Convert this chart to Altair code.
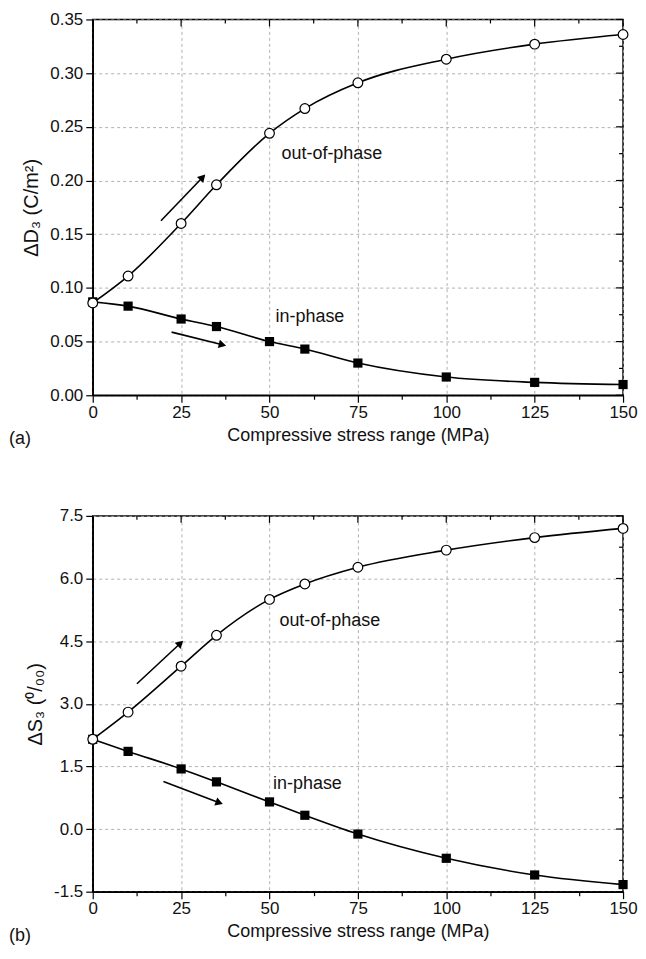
import altair as alt
import pandas as pd

# ---------------- data ----------------
stress = [0, 10, 25, 35, 50, 60, 75, 100, 125, 150]
d3_out = [0.086, 0.111, 0.160, 0.196, 0.244, 0.267, 0.291, 0.313, 0.327, 0.336]
d3_in = [0.087, 0.083, 0.071, 0.064, 0.050, 0.043, 0.030, 0.017, 0.012, 0.010]
s3_out = [2.15, 2.80, 3.90, 4.64, 5.50, 5.87, 6.27, 6.68, 6.98, 7.20]
s3_in = [2.15, 1.86, 1.44, 1.13, 0.65, 0.33, -0.12, -0.70, -1.10, -1.33]

x_ticks = [0, 12.5, 25, 37.5, 50, 62.5, 75, 87.5, 100, 112.5, 125, 137.5, 150]
d3_ticks = [0, 0.025, 0.05, 0.075, 0.10, 0.125, 0.15, 0.175, 0.20, 0.225,
            0.25, 0.275, 0.30, 0.325, 0.35]
s3_ticks = [-1.5, -0.75, 0.0, 0.75, 1.5, 2.25, 3.0, 3.75, 4.5, 5.25, 6.0,
            6.75, 7.5]

# annotations (data units)
d3_labels = ["out-of-phase", "in-phase"]
d3_label_x = [53.4, 51.7]
d3_label_y = [0.225, 0.073]
s3_labels = ["out-of-phase", "in-phase"]
s3_label_x = [52.8, 51.0]
s3_label_y = [4.98, 1.07]

d3_arrow_x = [[19.3, 31.1], [22.3, 36.7]]
d3_arrow_y = [[0.1625, 0.203], [0.0588, 0.047]]
s3_arrow_x = [[12.5, 24.8], [20.0, 35.8]]
s3_arrow_y = [[3.48, 4.45], [1.14, 0.63]]

W, H = 532, 377
FONT = "Liberation Sans"
MINUS_FIX = "replace(datum.label, '\u2212', '-')"


def panel(out_vals, in_vals, ydom, yticks, ytitle, yfmt, minor_test,
          lab, labx, laby, arx, ary, angles, tag):
    df = pd.DataFrame({
        "x": stress + stress,
        "y": out_vals + in_vals,
        "series": ["out"] * len(stress) + ["in"] * len(stress),
    })
    xscale = alt.Scale(domain=[0, 150], nice=False, zero=False)
    yscale = alt.Scale(domain=ydom, nice=False, zero=False)
    xminor = "datum.value % 25 != 0"
    xaxis = alt.Axis(
        values=x_ticks, title="Compressive stress range (MPa)", format="d",
        labelExpr="datum.value % 25 == 0 ? datum.label : ''",
        labelOverlap=False, labelPadding=2, labelFlush=False,
        tickSize={"condition": {"test": xminor, "value": 4}, "value": 7},
        gridOpacity={"condition": {"test": xminor, "value": 0}, "value": 1},
        titlePadding=6, titleFontSize=18,
    )
    yaxis = alt.Axis(
        values=yticks, title=ytitle, format=yfmt,
        labelExpr="(" + minor_test + ") ? '' : " + MINUS_FIX,
        labelOverlap=False, labelPadding=3, labelFlush=False,
        tickSize={"condition": {"test": minor_test, "value": 4}, "value": 7},
        gridOpacity={"condition": {"test": minor_test, "value": 0}, "value": 1},
        titlePadding=8, titleFontSize=20,
    )
    base = alt.Chart(df)
    lines = base.mark_line(interpolate="monotone", color="black",
                           strokeWidth=1.6).encode(
        x=alt.X("x:Q", scale=xscale, axis=xaxis),
        y=alt.Y("y:Q", scale=yscale, axis=yaxis),
        detail="series:N",
    )
    squares = base.transform_filter("datum.series == 'in'").mark_point(
        shape="square", filled=True, color="black", size=85, opacity=1
    ).encode(x="x:Q", y="y:Q")
    circles = base.transform_filter("datum.series == 'out'").mark_point(
        shape="circle", filled=True, fill="white", stroke="black",
        strokeWidth=1.2, size=95, opacity=1
    ).encode(x="x:Q", y="y:Q")

    # inward ticks on top and right edges
    tx = pd.DataFrame({"t": x_ticks})
    ty = pd.DataFrame({"t": yticks})
    top_major = alt.Chart(tx).transform_filter("datum.t % 25 == 0").mark_rule(
        color="black", strokeWidth=1.2).encode(
        x="t:Q", y=alt.value(0), y2=alt.value(7))
    top_minor = alt.Chart(tx).transform_filter("datum.t % 25 != 0").mark_rule(
        color="black", strokeWidth=1.2).encode(
        x="t:Q", y=alt.value(0), y2=alt.value(4))
    ytest = minor_test.replace("datum.value", "datum.t")
    right_major = alt.Chart(ty).transform_filter("!(" + ytest + ")").mark_rule(
        color="black", strokeWidth=1.2).encode(
        y="t:Q", x=alt.value(W), x2=alt.value(W - 7))
    right_minor = alt.Chart(ty).transform_filter(ytest).mark_rule(
        color="black", strokeWidth=1.2).encode(
        y="t:Q", x=alt.value(W), x2=alt.value(W - 4))

    # annotations
    tdf = pd.DataFrame({"lx": labx, "ly": laby, "lab": lab})
    texts = alt.Chart(tdf).mark_text(
        align="left", baseline="middle", fontSize=18, font=FONT, color="#111"
    ).encode(x="lx:Q", y="ly:Q", text="lab:N")

    arrows = []
    for i in range(len(arx)):
        adf = pd.DataFrame({"ax": arx[i], "ay": ary[i], "o": [0, 1]})
        arrows.append(alt.Chart(adf).mark_line(color="black", strokeWidth=1.6)
                      .encode(x="ax:Q", y="ay:Q", order="o:Q"))
        hdf = pd.DataFrame({"hx": [arx[i][1]], "hy": [ary[i][1]]})
        arrows.append(alt.Chart(hdf).mark_point(
            shape="triangle-up", filled=True, color="black", size=75,
            angle=angles[i], opacity=1)
            .encode(x="hx:Q", y="hy:Q"))

    tagdf = pd.DataFrame({"tag": [tag]})
    tagtext = alt.Chart(tagdf).mark_text(
        align="left", baseline="middle", fontSize=18, font=FONT, color="#111"
    ).encode(x=alt.value(-84), y=alt.value(H + 44), text="tag:N")

    return alt.layer(lines, squares, circles, top_major, top_minor,
                     right_major, right_minor, texts, *arrows, tagtext
                     ).properties(width=W, height=H)


top = panel(d3_out, d3_in, [0, 0.35], d3_ticks, "ΔD₃ (C/m²)", ".2f",
            "abs(round(datum.value*1000)) % 50 != 0",
            d3_labels, d3_label_x, d3_label_y, d3_arrow_x, d3_arrow_y,
            [44, 104], "(a)")
bottom = panel(s3_out, s3_in, [-1.5, 7.5], s3_ticks, "ΔS₃ (⁰/₀₀)", ".1f",
               "abs(round((datum.value+1.5)*100)) % 150 != 0",
               s3_labels, s3_label_x, s3_label_y, s3_arrow_x, s3_arrow_y,
               [47, 110], "(b)")

chart = alt.vconcat(top, bottom, spacing=57).properties(
    padding={"left": 0, "top": 0, "right": 0, "bottom": 0}
).configure(font=FONT).configure_view(
    stroke="black", strokeWidth=1.5
).configure_axis(
    domainColor="black", domainWidth=1.5, tickColor="black", tickWidth=1.2,
    labelColor="#111", labelFontSize=17, labelFont=FONT,
    titleColor="#111", titleFontSize=18, titleFont=FONT,
    titleFontWeight="normal",
    gridColor="#a8a8a8", gridDash=[3, 3], gridWidth=0.9,
)

chart.save("out.html", embed_options={"renderer": "svg", "actions": False})
